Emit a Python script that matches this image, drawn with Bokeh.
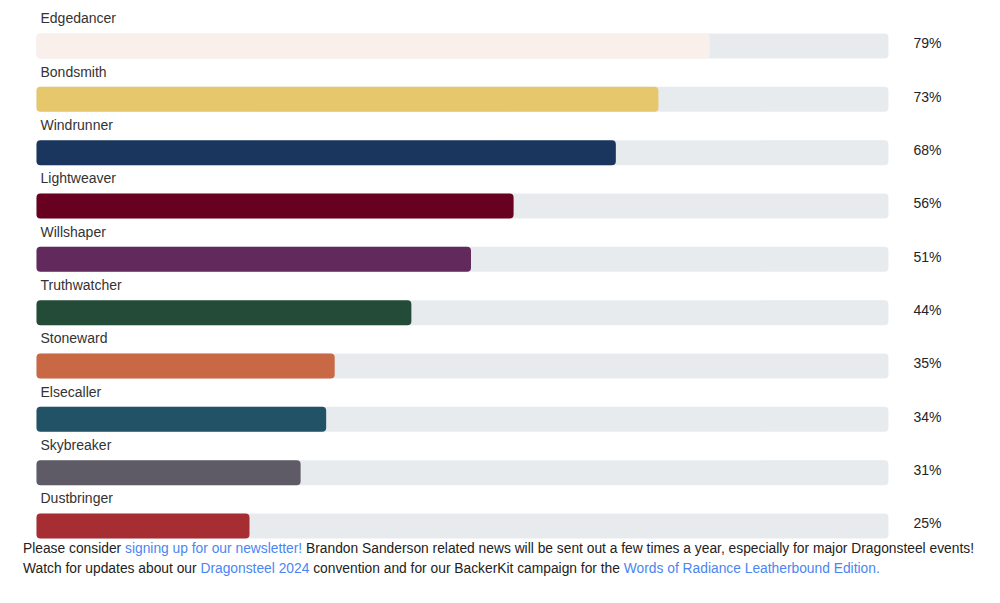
from bokeh.plotting import figure
from bokeh.models import Range1d, ColumnDataSource, Div
from bokeh.layouts import column
from bokeh.core.properties import value
from bokeh.embed import file_html
from bokeh.resources import INLINE

orders = ["Edgedancer", "Bondsmith", "Windrunner", "Lightweaver", "Willshaper",
          "Truthwatcher", "Stoneward", "Elsecaller", "Skybreaker", "Dustbringer"]
percents = [79, 73, 68, 56, 51, 44, 35, 34, 31, 25]
colors = ["#f9f0eb", "#e6c76c", "#1a365f", "#680020", "#62295d",
          "#234b38", "#c96844", "#215265", "#5e5b67", "#a62e33"]
labels = [f"{v}%" for v in percents]

idx = list(range(len(orders)))
src = ColumnDataSource(dict(
    y=idx, pct=percents, color=colors, name=orders, label=labels,
    name_y=[i - 0.516 for i in idx],
    pct_y=[i - 0.05 for i in idx],
    full=[100] * len(orders), zero=[0] * len(orders),
    name_x=[0.47] * len(orders), pct_x=[102.93] * len(orders),
))

p = figure(width=1000, height=539, output_backend="svg", toolbar_location=None,
           x_range=Range1d(-4.225, 113.15), y_range=Range1d(9.253, -0.853),
           x_axis_location=None, y_axis_location=None, min_border=0)
p.outline_line_color = None
p.xgrid.visible = False
p.ygrid.visible = False

# track
p.hbar(y="y", left="zero", right="full", height=0.469, source=src,
       fill_color="#e8ebee", line_color=None, border_radius=4)
# value bar
p.hbar(y="y", left="zero", right="pct", height=0.469, source=src,
       fill_color="color", line_color=None, border_radius=4)

p.text(x="name_x", y="name_y", text="name", source=src,
       text_font=value("Liberation Sans"), text_font_size="14px",
       text_color="#333333", text_baseline="middle", text_align="left")
p.text(x="pct_x", y="pct_y", text="label", source=src,
       text_font=value("Liberation Sans"), text_font_size="14px",
       text_color="#212529", text_baseline="middle", text_align="left")

link = "color:#4a86f2;"
div = Div(text=(
    '<div style="font-family:Arial,\'Liberation Sans\',sans-serif;font-size:13.8px;'
    'line-height:20px;color:#222;white-space:nowrap;">'
    'Please consider <span style="' + link + '">signing up for our newsletter!</span> '
    'Brandon Sanderson related news will be sent out a few times a year, especially for major Dragonsteel events!<br>'
    'Watch for updates about our <span style="' + link + '">Dragonsteel 2024</span> '
    'convention and for our BackerKit campaign for the '
    '<span style="' + link + '">Words of Radiance Leatherbound Edition.</span>'
    '</div>'), width=977, height=50, margin=(0, 0, 0, 23))

layout = column(p, div, spacing=0)
open("out.html", "w").write(file_html(layout, INLINE))
